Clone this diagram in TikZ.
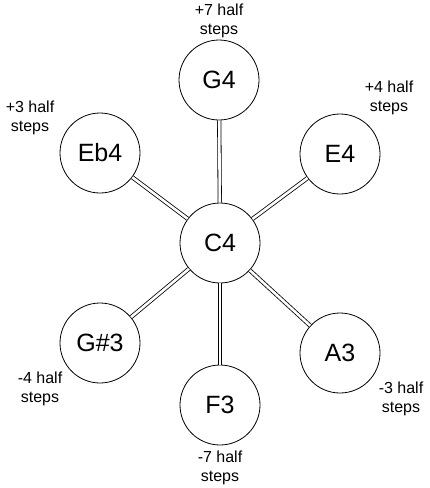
\documentclass[tikz,border=0pt]{standalone}
\usepackage{fontspec}
\setmainfont{Liberation Sans}
\usepackage{tikz}

\begin{document}
\begin{tikzpicture}[x=1pt,y=-1pt,
    note/.style={draw,circle,minimum size=80pt,inner sep=0pt,line width=0.8pt,
      font=\fontsize{25}{30}\selectfont},
    steps/.style={align=center,font=\fontsize{16}{19.5}\selectfont},
    link/.style={double,double distance=2.6pt,line width=0.8pt}]
    \useasboundingbox (0,0) rectangle (430,488);
    \begin{scope}
      \node[note] (c4)  at (220,243) {C4};
      \node[note] (g4)  at (219,80)  {G4};
      \node[note] (eb4) at (100,153) {Eb4};
      \node[note] (e4)  at (340,154) {E4};
      \node[note] (gs3) at (100,343) {G\#3};
      \node[note] (f3)  at (220,405) {F3};
      \node[note] (a3)  at (340,353) {A3};
      \draw[link] (c4) -- (g4);
      \draw[link] (c4) -- (eb4);
      \draw[link] (c4) -- (e4);
      \draw[link] (c4) -- (gs3);
      \draw[link] (c4) -- (f3);
      \draw[link] (c4) -- (a3);
      \node[steps] (lg4)  at (219,21)  {+7 half\\steps};
      \node[steps] (leb4) at (30,118)  {+3 half\\steps};
      \node[steps] (le4)  at (389,98)  {+4 half\\steps};
      \node[steps] (lgs3) at (40,389)  {-4 half\\steps};
      \node[steps] (lf3)  at (220,468) {-7 half\\steps};
      \node[steps] (la3)  at (401,399) {-3 half\\steps};
    \end{scope}
\end{tikzpicture}
\end{document}
